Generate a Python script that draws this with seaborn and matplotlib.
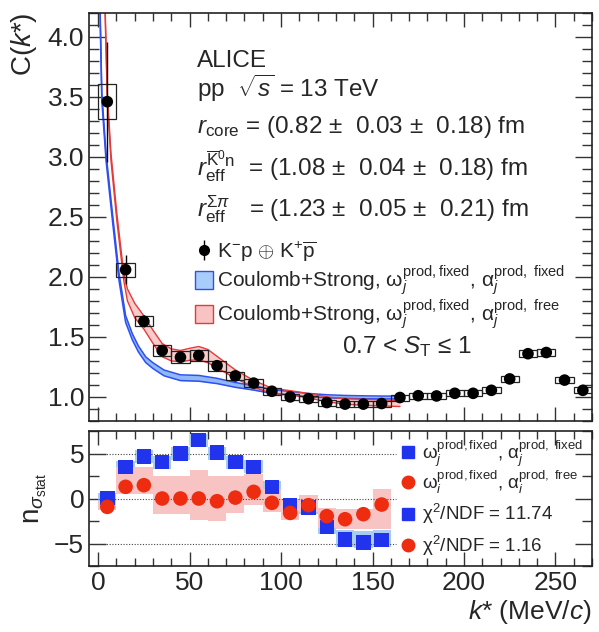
import matplotlib
matplotlib.use('Agg')
import matplotlib.pyplot as plt
from matplotlib.patches import Rectangle, Patch
from matplotlib.lines import Line2D
from matplotlib.ticker import MultipleLocator
import seaborn as sns

# --- measured K-p correlation function (10 MeV/c bins) ---
kstar = [5, 15, 25, 35, 45, 55, 65, 75, 85, 95, 105, 115, 125, 135,
         145, 155, 165, 175, 185, 195, 205, 215, 225, 235, 245, 255, 265]
C_data = [3.46, 2.06, 1.63, 1.386, 1.33, 1.345, 1.26, 1.175, 1.115, 1.047,
          1.0, 0.985, 0.953, 0.94, 0.94, 0.945, 0.995, 1.01, 1.008, 1.03,
          1.03, 1.055, 1.15, 1.36, 1.37, 1.14, 1.055]
stat_err = [0.5, 0.12, 0.05, 0.03, 0.025, 0.025, 0.02, 0.02, 0.015, 0.015,
            0.012, 0.012, 0.012, 0.012, 0.012, 0.012, 0.012, 0.012, 0.012,
            0.012, 0.012, 0.012, 0.012, 0.012, 0.012, 0.012, 0.012]
sys_err = [0.145, 0.06, 0.042, 0.043, 0.05, 0.045, 0.04, 0.035, 0.033, 0.03,
           0.025, 0.025, 0.025, 0.025, 0.025, 0.025, 0.025, 0.025, 0.025,
           0.025, 0.025, 0.025, 0.025, 0.028, 0.028, 0.025, 0.025]

# --- model bands: Coulomb+Strong, alpha fixed (blue) / alpha free (red) ---
blue_k = [0.8, 2, 4.3, 7.8, 11.4, 15, 18.7, 22, 26, 30, 36, 45, 55, 65, 75,
          85, 95, 105, 115, 125, 135, 145, 155, 165]
blue_C = [4.4, 3.5, 3.0, 2.5, 2.0, 1.65, 1.5, 1.4, 1.31, 1.26, 1.2, 1.16,
          1.155, 1.133, 1.1, 1.075, 1.045, 1.03, 1.015, 1.005, 1.0, 0.997,
          0.995, 0.995]
blue_hw = [0.03, 0.03, 0.03, 0.03, 0.03, 0.028, 0.026, 0.025, 0.024, 0.024,
           0.024, 0.024, 0.024, 0.022, 0.02, 0.018, 0.016, 0.015, 0.014,
           0.013, 0.012, 0.012, 0.012, 0.012]

red_k = [3.5, 5, 7, 10.2, 14, 16, 20, 25, 30, 35, 40, 45, 50, 55, 60, 65, 75,
         85, 95, 105, 115, 125, 135, 145, 155, 165]
red_C = [4.4, 3.5, 3.0, 2.5, 2.0, 1.85, 1.72, 1.62, 1.5, 1.39, 1.35, 1.34,
         1.355, 1.365, 1.34, 1.29, 1.19, 1.11, 1.05, 1.035, 1.01, 0.98,
         0.962, 0.955, 0.95, 0.945]
red_hw = [0.03, 0.03, 0.03, 0.03, 0.03, 0.05, 0.06, 0.055, 0.055, 0.055,
          0.05, 0.047, 0.05, 0.055, 0.055, 0.048, 0.035, 0.028, 0.022, 0.017,
          0.018, 0.02, 0.022, 0.025, 0.025, 0.025]

# --- pulls (n_sigma_stat) ---
pull_k = [5, 15, 25, 35, 45, 55, 65, 75, 85, 95, 105, 115, 125, 135, 145, 155]
blue_pull = [0.05, 3.5, 4.7, 4.07, 5.0, 6.5, 5.1, 4.07, 3.5, 1.3, -0.74,
             -1.0, -3.15, -4.56, -4.9, -4.63]
red_pull = [-0.93, 1.3, 1.48, 0.0, 0.0, 0.0, -0.3, 0.1, 0.74, -0.48, -1.6,
            -0.74, -1.96, -2.3, -1.74, -0.67]
blue_band_lo = [-0.63, 2.8, 4.0, 3.33, 4.26, 5.74, 4.33, 3.33, 2.85, 0.55,
                -1.5, -1.67, -3.9, -5.4, -5.5, -5.4]
blue_band_hi = [0.63, 4.2, 5.4, 4.75, 5.67, 7.15, 5.74, 4.75, 4.26, 2.0,
                -0.1, -0.37, -2.4, -3.5, -3.6, -3.5]
red_band_lo = [-1.3, 0.55, 0.55, -1.67, -1.67, -2.4, -2.5, -1.6, -0.74, -1.5,
               -2.4, -1.5, -3.3, -3.4, -3.4, -3.4]
red_band_hi = [-0.26, 3.5, 3.5, 2.5, 2.5, 3.15, 2.5, 2.5, 2.67, 1.04, 0.0,
               0.37, -1.0, -1.2, -1.2, 1.04]

# colours
BLUE_LINE = '#2f4ff0'
BLUE_FILL = '#8fb9f6'
RED_LINE = '#e63a3a'
RED_FILL = '#f8c3c3'
SQ_BLUE = '#2233ee'
CIRC_RED = '#ee2c10'

sns.set_style('ticks')
plt.rcParams['font.family'] = ['Liberation Sans', 'DejaVu Sans']
plt.rcParams['mathtext.fontset'] = 'custom'
plt.rcParams['mathtext.rm'] = 'Liberation Sans'
plt.rcParams['mathtext.it'] = 'Liberation Sans:italic'
plt.rcParams['mathtext.bf'] = 'Liberation Sans:bold'
plt.rcParams['axes.linewidth'] = 1.2
plt.rcParams['axes.edgecolor'] = '#222222'

fig = plt.figure(figsize=(5.99, 6.32), dpi=100)
ax = fig.add_axes([0.1486, 0.334, 0.8397, 0.6456])
axp = fig.add_axes([0.1486, 0.1044, 0.8397, 0.2136])

# --- top panel ---
b_lo = [c - h for c, h in zip(blue_C, blue_hw)]
b_hi = [c + h for c, h in zip(blue_C, blue_hw)]
r_lo = [c - h for c, h in zip(red_C, red_hw)]
r_hi = [c + h for c, h in zip(red_C, red_hw)]

ax.fill_between(blue_k, b_lo, b_hi, color=BLUE_FILL, lw=0)
sns.lineplot(x=blue_k, y=b_lo, ax=ax, color=BLUE_LINE, lw=1.1, sort=False, estimator=None)
sns.lineplot(x=blue_k, y=b_hi, ax=ax, color=BLUE_LINE, lw=1.1, sort=False, estimator=None)
ax.fill_between(red_k, r_lo, r_hi, color=RED_FILL, lw=0, alpha=0.85)
sns.lineplot(x=red_k, y=r_lo, ax=ax, color=RED_LINE, lw=1.0, sort=False, estimator=None)
sns.lineplot(x=red_k, y=r_hi, ax=ax, color=RED_LINE, lw=1.0, sort=False, estimator=None)

# systematic boxes
for k, c, s in zip(kstar, C_data, sys_err):
    ax.add_patch(Rectangle((k - 5, c - s), 10, 2 * s, fill=False,
                           ec='#222222', lw=0.9, zorder=4))
ax.errorbar(kstar, C_data, yerr=stat_err, fmt='none', ecolor='black',
            elinewidth=1.0, zorder=5)
sns.scatterplot(x=kstar, y=C_data, ax=ax, color='black', s=70,
                edgecolor='none', zorder=6)

ax.set_xlim(-5, 270)
ax.set_ylim(0.8, 4.2)
ax.yaxis.set_major_locator(MultipleLocator(0.5))
ax.yaxis.set_minor_locator(MultipleLocator(0.1))
ax.xaxis.set_major_locator(MultipleLocator(50))
ax.xaxis.set_minor_locator(MultipleLocator(10))
ax.tick_params(which='both', direction='in', top=True, right=True,
               labelbottom=False, labelsize=19, width=1.0, color='#333333')
ax.tick_params(which='major', axis='y', length=12)
ax.tick_params(which='minor', axis='y', length=7)
ax.tick_params(which='major', axis='x', length=10)
ax.tick_params(which='minor', axis='x', length=6)
ax.set_ylabel(r'C($k$*)', fontsize=20, loc='top', labelpad=6)
ax.set_xlabel('')

txt = dict(fontsize=17.5, va='baseline', ha='left', transform=fig.transFigure)
fig.text(197 / 599, 1 - 67 / 632, 'ALICE', **txt)
fig.text(197 / 599, 1 - 97 / 632, r'pp  $\sqrt{s}$ = 13 TeV', **txt)
fig.text(197 / 599, 1 - 133 / 632,
         r'$r_{\rm core}$ = (0.82 ±  0.03 ±  0.18) fm', **txt)
fig.text(197 / 599, 1 - 176 / 632,
         r'$r_{\rm eff}^{\overline{\rm K}^{0}{\rm n}}$  = (1.08 ±  0.04 ±  0.18) fm', **txt)
fig.text(197 / 599, 1 - 216 / 632,
         r'$r_{\rm eff}^{\Sigma\pi}$   = (1.23 ±  0.05 ±  0.21) fm', **txt)
fig.text(342 / 599, 1 - 353 / 632, r'0.7 < $S_{\rm T}$ ≤ 1', **txt)

data_h = ax.errorbar([], [], yerr=[], fmt='o', color='black', ms=7, elinewidth=1.0)
leg_handles = [
    data_h,
    Patch(facecolor='#a9cdfa', edgecolor=BLUE_LINE, lw=1.0),
    Patch(facecolor=RED_FILL, edgecolor=RED_LINE, lw=1.0),
]
leg_labels = [
    r'K$^{-}$p $\oplus$ K$^{+}\overline{\rm p}$',
    r'Coulomb+Strong, $\mathrm{\omega}_{j}^{\rm prod,fixed}$, $\mathrm{\alpha}_{j}^{\rm prod,\ fixed}$',
    r'Coulomb+Strong, $\mathrm{\omega}_{j}^{\rm prod,fixed}$, $\mathrm{\alpha}_{j}^{\rm prod,\ free}$',
]
ax.legend(leg_handles, leg_labels, loc='upper left',
          bbox_to_anchor=(195 / 599, 1 - 240 / 632),
          bbox_transform=fig.transFigure, frameon=False, fontsize=15,
          handlelength=0.85, handleheight=1.0, handletextpad=0.2,
          borderpad=0, borderaxespad=0, labelspacing=-0.04)

# --- bottom panel: pulls ---
blue_h = [h - l for h, l in zip(blue_band_hi, blue_band_lo)]
red_h = [h - l for h, l in zip(red_band_hi, red_band_lo)]
axp.bar(pull_k, blue_h, bottom=blue_band_lo, width=10, color='#a8cdf4',
        lw=0, zorder=1)
axp.bar(pull_k, red_h, bottom=red_band_lo, width=10, color=RED_FILL,
        lw=0, zorder=2)
for yv in [5, 0, -5]:
    axp.plot([0, 163], [yv, yv], ls=(0, (1, 1.5)), color='#444444', lw=0.8,
             zorder=2.5)
sns.scatterplot(x=pull_k, y=blue_pull, ax=axp, marker='s', color=SQ_BLUE,
                s=110, edgecolor='none', zorder=3)
sns.scatterplot(x=pull_k, y=red_pull, ax=axp, marker='o', color=CIRC_RED,
                s=110, edgecolor='none', zorder=4)

axp.set_xlim(-5, 270)
axp.set_ylim(-7.5, 7.5)
axp.yaxis.set_major_locator(MultipleLocator(5))
axp.yaxis.set_minor_locator(MultipleLocator(2.5))
axp.xaxis.set_major_locator(MultipleLocator(50))
axp.xaxis.set_minor_locator(MultipleLocator(10))
axp.tick_params(which='both', direction='in', top=True, right=True,
                labelsize=19, width=1.0, color='#333333')
axp.tick_params(which='major', axis='y', length=12)
axp.tick_params(which='minor', axis='y', length=7)
axp.tick_params(which='major', axis='x', length=10)
axp.tick_params(which='minor', axis='x', length=6)
axp.set_yticks([-5, 0, 5])
axp.set_yticklabels(['\u22125', '0', '5'])
axp.set_ylabel(r'n$_{\sigma_{\rm stat}}$', fontsize=20, labelpad=4)
axp.set_xlabel(r'$k$* (MeV/$c$)', fontsize=19, loc='right', labelpad=2)

# pull legend: model labels and chi2 values, two blocks
model_handles = [
    Line2D([], [], marker='s', ls='none', color=SQ_BLUE, ms=9),
    Line2D([], [], marker='o', ls='none', color=CIRC_RED, ms=9),
]
model_labels = [
    r'$\mathrm{\omega}_{j}^{\rm prod,fixed}$, $\mathrm{\alpha}_{j}^{\rm prod,\ fixed}$',
    r'$\mathrm{\omega}_{i}^{\rm prod,fixed}$, $\mathrm{\alpha}_{i}^{\rm prod,\ free}$',
]
chi_labels = [r'$\mathrm{\chi}^{2}$/NDF = 11.74', r'$\mathrm{\chi}^{2}$/NDF = 1.16']
leg1 = axp.legend(model_handles, model_labels, loc='upper left',
                  bbox_to_anchor=(400 / 599, 1 - 438 / 632),
                  bbox_transform=fig.transFigure, frameon=False, fontsize=13.5,
                  handlelength=0.8, handletextpad=0.4, borderpad=0,
                  borderaxespad=0, labelspacing=0.0)
axp.add_artist(leg1)
axp.legend(model_handles, chi_labels, loc='upper left',
           bbox_to_anchor=(400 / 599, 1 - 502 / 632),
           bbox_transform=fig.transFigure, frameon=False, fontsize=13.5,
           handlelength=0.8, handletextpad=0.4, borderpad=0,
           borderaxespad=0, labelspacing=0.4)

fig.savefig('out.png', dpi=100)
